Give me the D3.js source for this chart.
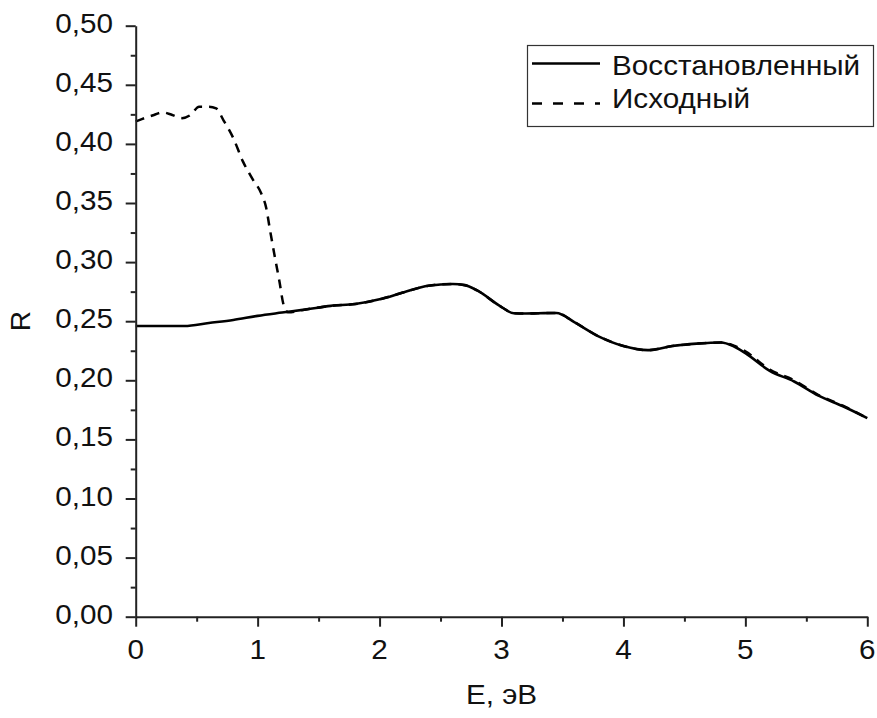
<!DOCTYPE html>
<html>
<head>
<meta charset="utf-8">
<script src="https://cdn.jsdelivr.net/npm/d3@7"></script>
<style>
  html, body { margin: 0; padding: 0; background: #fff; }
  svg { display: block; }
  text { font-family: "Liberation Sans", Arial, sans-serif; fill: #111; }
</style>
</head>
<body>
<svg id="chart" width="877" height="718"></svg>
<script>
// Reflectance spectra, R(E)
const energyRestored = [0.0, 0.2, 0.4, 0.6, 0.8, 1.0, 1.2, 1.4, 1.6, 1.8, 2.0, 2.2, 2.4, 2.6, 2.7, 2.8, 3.0, 3.1, 3.2, 3.3, 3.45, 3.6, 3.8, 4.0, 4.2, 4.4, 4.6, 4.8, 4.9, 5.0, 5.2, 5.4, 5.6, 5.8, 6.0];
const reflRestored   = [0.246, 0.246, 0.246, 0.2485, 0.251, 0.2545, 0.2573, 0.260, 0.263, 0.2645, 0.2685, 0.2745, 0.280, 0.2815, 0.2805, 0.276, 0.262, 0.2567, 0.2565, 0.2567, 0.257, 0.249, 0.237, 0.229, 0.2255, 0.229, 0.231, 0.232, 0.229, 0.223, 0.208, 0.199, 0.187, 0.178, 0.168];

const energySource = [0.0, 0.05, 0.15, 0.22, 0.30, 0.38, 0.45, 0.52, 0.60, 0.66, 0.72, 0.80, 0.88, 0.96, 1.03, 1.07, 1.10, 1.14, 1.18, 1.21, 1.25, 1.4, 1.6, 1.8, 2.0, 2.2, 2.4, 2.6, 2.7, 2.8, 3.0, 3.1, 3.2, 3.3, 3.45, 3.6, 3.8, 4.0, 4.2, 4.4, 4.6, 4.8, 4.9, 5.0, 5.2, 5.4, 5.6, 5.8, 6.0];
const reflSource   = [0.419, 0.421, 0.4245, 0.4267, 0.4245, 0.4218, 0.4245, 0.4315, 0.4315, 0.430, 0.420, 0.405, 0.385, 0.370, 0.358, 0.346, 0.328, 0.305, 0.283, 0.265, 0.2575, 0.260, 0.263, 0.2645, 0.2685, 0.2745, 0.280, 0.2815, 0.2805, 0.276, 0.262, 0.2567, 0.2565, 0.2567, 0.257, 0.249, 0.237, 0.229, 0.2255, 0.229, 0.231, 0.232, 0.2295, 0.2245, 0.209, 0.2, 0.1875, 0.1785, 0.168];

const xTicks = [0, 1, 2, 3, 4, 5, 6];
const xMinorTicks = [0.5, 1.5, 2.5, 3.5, 4.5, 5.5];
const yTicks = [0.00, 0.05, 0.10, 0.15, 0.20, 0.25, 0.30, 0.35, 0.40, 0.45, 0.50];
const yMinorTicks = [0.025, 0.075, 0.125, 0.175, 0.225, 0.275, 0.325, 0.375, 0.425, 0.475];

const legendNames = ["Восстановленный", "Исходный"];
const xTitle = "E, эВ";
const yTitle = "R";

const svg = d3.select("#chart");
const plotLeft = 135.7, plotRight = 867.3, plotTop = 25.7, plotBottom = 616.7;
const x = d3.scaleLinear().domain([0, 6]).range([plotLeft, plotRight]);
const y = d3.scaleLinear().domain([0, 0.5]).range([plotBottom, plotTop]);

const FONT = 28;
const SX = 1.06; // slight horizontal widening of glyphs
const fmtY = d => d3.format(".2f")(d).replace(".", ",");

function label(g, px, py, str, anchor, size) {
  const t = g.append("g").attr("transform", `translate(${px},${py}) scale(${SX},1)`);
  return t.append("text").attr("text-anchor", anchor).attr("font-size", size || FONT).text(str);
}

// Curves
const line = d3.line().x(d => x(d[0])).y(d => y(d[1])).curve(d3.curveMonotoneX);
const srcData = energySource.map((e, i) => [e, reflSource[i]]);
const recData = energyRestored.map((e, i) => [e, reflRestored[i]]);

svg.append("path").datum(srcData).attr("d", line)
  .attr("fill", "none").attr("stroke", "#000").attr("stroke-width", 2.5)
  .attr("stroke-dasharray", "9,7");
svg.append("path").datum(recData).attr("d", line)
  .attr("fill", "none").attr("stroke", "#000").attr("stroke-width", 2.6);

// Axes
const axisColor = "#222";
const xAxis = svg.append("g").attr("transform", `translate(0,${plotBottom})`)
  .call(d3.axisBottom(x).tickValues(xTicks).tickSize(10).tickSizeOuter(0).tickFormat(() => ""));
xAxis.selectAll("text").remove();
svg.append("g").attr("transform", `translate(0,${plotBottom})`)
  .call(d3.axisBottom(x).tickValues(xMinorTicks).tickSize(5).tickSizeOuter(0).tickFormat(() => ""))
  .select(".domain").remove();

const yAxis = svg.append("g").attr("transform", `translate(${plotLeft},0)`)
  .call(d3.axisLeft(y).tickValues(yTicks).tickSize(10).tickSizeOuter(0).tickFormat(() => ""));
yAxis.selectAll("text").remove();
svg.append("g").attr("transform", `translate(${plotLeft},0)`)
  .call(d3.axisLeft(y).tickValues(yMinorTicks).tickSize(5).tickSizeOuter(0).tickFormat(() => ""))
  .select(".domain").remove();

svg.selectAll(".domain").attr("stroke", axisColor).attr("stroke-width", 2);
svg.selectAll(".tick line").attr("stroke", axisColor).attr("stroke-width", 2);

// Tick labels
const lab = svg.append("g");
xTicks.forEach(v => label(lab, x(v), 659, String(v), "middle"));
yTicks.forEach(v => label(lab, 113, y(v) + 7, fmtY(v), "end"));

// Axis titles
label(svg, x(3), 704, xTitle, "middle");
svg.append("g").attr("transform", `translate(30,${y(0.25)}) rotate(-90)`)
  .append("text").attr("text-anchor", "middle").attr("font-size", FONT).text(yTitle);

// Legend
const lg = svg.append("g");
lg.append("rect").attr("x", 527.5).attr("y", 45.5).attr("width", 346).attr("height", 81)
  .attr("fill", "#fff").attr("stroke", "#333").attr("stroke-width", 1.2);
lg.append("line").attr("x1", 532).attr("x2", 600).attr("y1", 63.5).attr("y2", 63.5)
  .attr("stroke", "#000").attr("stroke-width", 2.6);
lg.append("line").attr("x1", 532).attr("x2", 600).attr("y1", 103.5).attr("y2", 103.5)
  .attr("stroke", "#000").attr("stroke-width", 2.5).attr("stroke-dasharray", "10,11");
label(lg, 612, 75, legendNames[0], "start");
label(lg, 612, 108, legendNames[1], "start");
</script>
</body>
</html>
